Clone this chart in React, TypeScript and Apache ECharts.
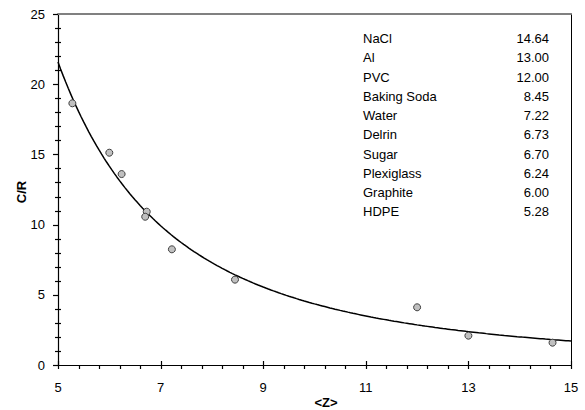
import { useEffect, useRef } from "react";
import * as echarts from "echarts";

const materials = ["NaCl", "Al", "PVC", "Baking Soda", "Water", "Delrin", "Sugar", "Plexiglass", "Graphite", "HDPE"];
const zValues = [14.64, 13.0, 12.0, 8.45, 7.22, 6.73, 6.7, 6.24, 6.0, 5.28];
const zLabels = ["14.64", "13.00", "12.00", "8.45", "7.22", "6.73", "6.70", "6.24", "6.00", "5.28"];
const crValues = [1.59, 2.09, 4.11, 6.08, 8.24, 10.92, 10.56, 13.6, 15.12, 18.64];

const xMin = 5, xMax = 15, xStep = 2, xMinorSplit = 5;
const yMin = 0, yMax = 25, yStep = 5, yMinorSplit = 5;

const FONT = "Liberation Sans, Arial, sans-serif";

// Power trendline (least squares in log-log space), like a spreadsheet power fit
function powerFit(xs: number[], ys: number[]) {
  const lx = xs.map(Math.log);
  const ly = ys.map(Math.log);
  const n = xs.length;
  const mx = lx.reduce((a, b) => a + b, 0) / n;
  const my = ly.reduce((a, b) => a + b, 0) / n;
  let sxy = 0, sxx = 0;
  for (let i = 0; i < n; i++) {
    sxy += (lx[i] - mx) * (ly[i] - my);
    sxx += (lx[i] - mx) * (lx[i] - mx);
  }
  const b = sxy / sxx;
  const a = Math.exp(my - b * mx);
  return { a, b };
}

function tickValues(min: number, max: number, step: number, split: number, major: boolean) {
  const out: number[] = [];
  const n = Math.round(((max - min) / step) * split);
  for (let i = 0; i <= n; i++) {
    if ((i % split === 0) === major) out.push(min + (i * step) / split);
  }
  return out;
}

export default function App() {
  const ref = useRef<HTMLDivElement>(null);
  useEffect(() => {
    document.body.style.margin = "0";
    if (!ref.current) return;
    const chart = echarts.init(ref.current, undefined, { renderer: "svg" });
    const { a, b } = powerFit(zValues, crValues);
    const trend: number[][] = [];
    for (let i = 0; i <= 200; i++) {
      const x = xMin + ((xMax - xMin) * i) / 200;
      trend.push([x, a * Math.pow(x, b)]);
    }
    const labelStyle = { fontSize: 13, color: "#000", fontFamily: FONT };
    const rowY = (i: number) => 38.5 + i * 19.25;
    const graphics: any[] = [];
    materials.forEach((m, i) => {
      graphics.push({
        type: "text", x: 363, y: rowY(i),
        style: { text: m, fill: "#000", font: "13px " + FONT, align: "left", verticalAlign: "middle" },
      });
      graphics.push({
        type: "text", x: 549, y: rowY(i),
        style: { text: zLabels[i], fill: "#000", font: "13px " + FONT, align: "right", verticalAlign: "middle" },
      });
    });
    graphics.push({
      type: "text", x: 326, y: 402,
      style: { text: "<Z>", fill: "#000", font: "bold 13px " + FONT, align: "center", verticalAlign: "middle" },
    });
    graphics.push({
      type: "text", x: 21, y: 192, rotation: Math.PI / 2,
      style: { text: "C/R", fill: "#000", font: "bold 13px " + FONT, align: "center", verticalAlign: "middle" },
    });

    const xMajor = tickValues(xMin, xMax, xStep, xMinorSplit, true);
    const xMinor = tickValues(xMin, xMax, xStep, xMinorSplit, false);
    const yMajor = tickValues(yMin, yMax, yStep, yMinorSplit, true);
    const yMinor = tickValues(yMin, yMax, yStep, yMinorSplit, false);

    chart.setOption({
      animation: false,
      backgroundColor: "#fff",
      grid: { left: 58, right: 14, top: 14, bottom: 45, containLabel: false },
      xAxis: [
        {
          type: "value", min: xMin, max: xMax, interval: xStep, position: "bottom",
          axisLine: { show: true, onZero: false, lineStyle: { color: "#000", width: 1.2 } },
          axisTick: { show: false },
          axisLabel: { ...labelStyle, margin: 16 },
          splitLine: { show: false },
        },
        {
          type: "value", min: xMin, max: xMax, interval: xStep, position: "top",
          axisLine: { show: true, onZero: false, lineStyle: { color: "#808080", width: 2 } },
          axisTick: { show: false },
          axisLabel: { show: false },
          splitLine: { show: false },
        },
      ],
      yAxis: [
        {
          type: "value", min: yMin, max: yMax, interval: yStep, position: "left",
          axisLine: { show: true, onZero: false, lineStyle: { color: "#000", width: 1.2 } },
          axisTick: { show: false },
          axisLabel: { ...labelStyle, margin: 13 },
          splitLine: { show: false },
        },
        {
          type: "value", min: yMin, max: yMax, interval: yStep, position: "right",
          axisLine: { show: true, onZero: false, lineStyle: { color: "#000", width: 1 } },
          axisTick: { show: false },
          axisLabel: { show: false },
          splitLine: { show: false },
        },
      ],
      series: [
        {
          type: "line", xAxisIndex: 0, yAxisIndex: 0, data: trend, showSymbol: false, symbol: "none",
          lineStyle: { color: "#000", width: 1.5 }, silent: true, z: 2,
        },
        {
          type: "scatter", xAxisIndex: 0, yAxisIndex: 0,
          data: zValues.map((z, i) => [z, crValues[i]]),
          symbol: "circle", symbolSize: 7,
          itemStyle: { color: "#c0c0c0", borderColor: "#404040", borderWidth: 1, opacity: 1 },
          z: 3,
        },
      ],
      graphic: graphics,
    });

    // Tick marks placed through the chart's own scales (convertToPixel)
    const ticks: any[] = [];
    const px = (x: number, y: number) => chart.convertToPixel({ gridIndex: 0 }, [x, y]) as number[];
    const addLine = (x1: number, y1: number, x2: number, y2: number) =>
      ticks.push({ type: "line", silent: true, z: 100, shape: { x1, y1, x2, y2 }, style: { stroke: "#000", lineWidth: 1.2 } });
    xMajor.forEach((v) => { const p = px(v, yMin); const x = Math.round(p[0]) + 0.5; addLine(x, p[1] - 4, x, p[1] + 4); });
    xMinor.forEach((v) => { const p = px(v, yMin); const x = Math.round(p[0]) + 0.5; addLine(x, p[1], x, p[1] + 4); });
    yMajor.forEach((v) => { const p = px(xMin, v); const y = Math.round(p[1]) + 0.5; addLine(p[0] - 5, y, p[0], y); });
    yMinor.forEach((v) => { const p = px(xMin, v); const y = Math.round(p[1]) + 0.5; addLine(p[0] - 3, y, p[0] + 3, y); });
    chart.setOption({ graphic: [...graphics, ...ticks] });

    return () => chart.dispose();
  }, []);
  return <div ref={ref} style={{ width: 585, height: 410 }} />;
}
